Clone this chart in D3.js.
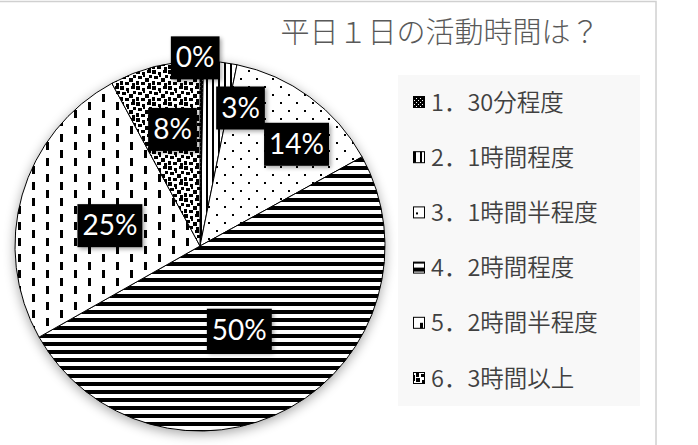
<!DOCTYPE html>
<meta charset="utf-8">
<head>
    <title>平日１日の活動時間は？</title>
    <script type="text/javascript" src="https://cdn.jsdelivr.net/npm/d3@7/dist/d3.min.js"></script>
    <style>
        body { margin: 0; background: #fff; }
        text { font-family: "Noto Sans CJK JP", sans-serif; }
        .lbl { font-family: Lato, "Open Sans", sans-serif; }
    </style>
</head>
<body>
<script>
    // data
    var categories = ["1．30分程度", "2．1時間程度", "3．1時間半程度", "4．2時間程度", "5．2時間半程度", "6．3時間以上"];
    var values = [0.3, 2.9, 13.8, 49.8, 25.3, 7.9];
    var pctLabels = ["0%", "3%", "14%", "50%", "25%", "8%"];
    var title = "平日１日の活動時間は？";

    var width = 698, height = 445;
    var cx = 200, cy = 246, radius = 185;

    var svg = d3.select("body").append("svg")
        .attr("width", width)
        .attr("height", height);

    var defs = svg.append("defs");

    // soft shadows
    var sh = defs.append("filter").attr("id", "pieShadow")
        .attr("x", "-20%").attr("y", "-20%").attr("width", "140%").attr("height", "140%");
    sh.append("feGaussianBlur").attr("in", "SourceAlpha").attr("stdDeviation", 6);
    sh.append("feOffset").attr("dx", 0).attr("dy", 3).attr("result", "ob");
    sh.append("feComponentTransfer").append("feFuncA").attr("type", "linear").attr("slope", 0.35);
    var m = sh.append("feMerge");
    m.append("feMergeNode");
    m.append("feMergeNode").attr("in", "SourceGraphic");

    var bs = defs.append("filter").attr("id", "boxShadow")
        .attr("x", "-20%").attr("y", "-20%").attr("width", "150%").attr("height", "150%");
    bs.append("feGaussianBlur").attr("in", "SourceAlpha").attr("stdDeviation", 2);
    bs.append("feOffset").attr("dx", 2).attr("dy", 2);
    bs.append("feComponentTransfer").append("feFuncA").attr("type", "linear").attr("slope", 0.35);
    var m2 = bs.append("feMerge");
    m2.append("feMergeNode");
    m2.append("feMergeNode").attr("in", "SourceGraphic");

    // pattern fills, one per category
    function pattern(id, w, h, bg, rects) {
        var p = defs.append("pattern").attr("id", id)
            .attr("patternUnits", "userSpaceOnUse")
            .attr("width", w).attr("height", h);
        p.append("rect").attr("width", w).attr("height", h).attr("fill", bg);
        rects.forEach(function(r) {
            p.append("rect").attr("x", r[0]).attr("y", r[1])
                .attr("width", r[2]).attr("height", r[3])
                .attr("fill", bg == "#000" ? "#fff" : "#000");
        });
    }
    pattern("p0", 4, 4, "#000", [[0, 0, 1, 1], [2, 2, 1, 1]]);
    pattern("p1", 6, 6, "#fff", [[0, 0, 2, 6]]);
    pattern("p2", 16, 16, "#fff", [[0, 0, 2, 2], [8, 8, 2, 2]]);
    pattern("p3", 8, 8, "#fff", [[0, 0, 8, 4]]);
    pattern("p4", 28, 16, "#fff", [[0, 0, 3, 8], [14, 8, 3, 8]]);
    pattern("p5", 16, 16, "#fff", [[0, 0, 4, 4], [6, 2, 3, 3], [11, 0, 4, 3], [2, 6, 4, 3],
        [9, 8, 4, 4], [13, 5, 3, 3], [0, 11, 3, 4], [5, 12, 4, 3], [12, 13, 3, 3], [7, 5, 2, 2]]);

    // chart frame
    svg.append("rect")
        .attr("x", -5).attr("y", 1.5)
        .attr("width", 661).attr("height", 460)
        .attr("fill", "none")
        .attr("stroke", "#d0d0d0")
        .attr("stroke-width", 1.5);

    // title
    svg.append("text")
        .attr("x", 440).attr("y", 43)
        .attr("text-anchor", "middle")
        .attr("font-size", 29)
        .attr("font-weight", 300)
        .attr("fill", "#595959")
        .text(title);

    // pie
    var pie = d3.pie().sort(null).value(function(d) { return d; });
    var arcs = pie(values);
    var arc = d3.arc().innerRadius(0).outerRadius(radius);

    var g = svg.append("g").attr("transform", "translate(" + cx + "," + cy + ")");
    g.append("g").attr("filter", "url(#pieShadow)")
        .selectAll("path")
        .data(arcs)
        .enter()
        .append("path")
        .attr("d", arc)
        .attr("fill", function(d, i) { return "url(#p" + i + ")"; })
        .attr("stroke", "#000")
        .attr("stroke-width", 1);

    // data labels (best-fit placement: radius fraction and angle nudge)
    var labelPlace = [[1.02, -2], [0.78, 10], [0.76, 7], [0.5, 4], [0.5, -3], [0.65, 1]];
    var lg = g.append("g");
    arcs.forEach(function(d, i) {
        var a = (d.startAngle + d.endAngle) / 2 + labelPlace[i][1] * Math.PI / 180;
        var rr = radius * labelPlace[i][0];
        var x = Math.sin(a) * rr, y = -Math.cos(a) * rr;
        var t = lg.append("g").attr("transform", "translate(" + x + "," + y + ")");
        var box = t.append("rect").attr("fill", "#000").attr("filter", "url(#boxShadow)");
        var txt = t.append("text").attr("class", "lbl")
            .attr("text-anchor", "middle")
            .attr("y", 10)
            .attr("font-size", 28)
            .attr("fill", "#fff")
            .text(pctLabels[i]);
        var w = txt.node().getComputedTextLength() + 10;
        box.attr("x", -w / 2).attr("y", -21).attr("width", w).attr("height", 43);
    });

    // legend
    var leg = svg.append("g");
    leg.append("rect")
        .attr("x", 398).attr("y", 75)
        .attr("width", 242).attr("height", 331)
        .attr("fill", "#f8f8f8");
    var ly = d3.scalePoint().domain(categories).range([102, 378]);
    var item = leg.selectAll(".item")
        .data(categories)
        .enter()
        .append("g")
        .attr("class", "item")
        .attr("transform", function(d) { return "translate(0," + ly(d) + ")"; });
    item.append("rect")
        .attr("x", 413.5).attr("y", -5.5)
        .attr("width", 11).attr("height", 11)
        .attr("fill", function(d, i) { return "url(#p" + i + ")"; })
        .attr("stroke", "#000")
        .attr("stroke-width", 1);
    item.append("text")
        .attr("x", 431).attr("y", 8.5)
        .attr("font-size", 23.5)
        .attr("font-weight", 350)
        .attr("fill", "#404040")
        .text(function(d) { return d; });
</script>
</body>
</html>
